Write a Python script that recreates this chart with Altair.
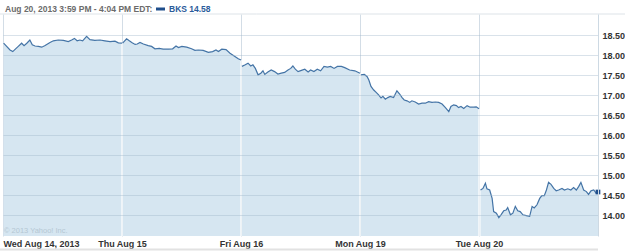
import altair as alt
import pandas as pd

# ---- data (minutes since 9:30 open, price) per trading day ----
day_labels = ["Wed Aug 14, 2013", "Thu Aug 15", "Fri Aug 16", "Mon Aug 19", "Tue Aug 20"]

d1_min = [2, 23, 32, 43, 50, 61, 69, 78, 88, 96, 105, 116, 127, 138, 154, 165, 181, 198, 214, 225,
          234, 243, 252, 261, 274, 285, 301, 318, 334, 351, 367, 378, 390]
d1_px = [18.30, 18.13, 18.09, 18.17, 18.22, 18.30, 18.24, 18.30, 18.38, 18.26, 18.23, 18.22, 18.20,
         18.24, 18.32, 18.36, 18.38, 18.37, 18.34, 18.38, 18.42, 18.36, 18.38, 18.36, 18.47, 18.39,
         18.37, 18.38, 18.36, 18.34, 18.35, 18.31, 18.30]

d2_min = [2, 15, 24, 32, 43, 50, 59, 70, 86, 97, 108, 122, 135, 152, 166, 177, 185, 196, 212, 228,
          239, 250, 266, 283, 297, 308, 316, 327, 341, 354, 370, 381, 390]
d2_px = [18.30, 18.41, 18.36, 18.32, 18.27, 18.28, 18.32, 18.28, 18.24, 18.22, 18.16, 18.17, 18.15,
         18.15, 18.16, 18.23, 18.19, 18.22, 18.20, 18.16, 18.12, 18.13, 18.12, 18.07, 18.09, 18.13,
         18.09, 18.15, 18.14, 18.05, 17.97, 17.91, 17.88]

d3_min = [3, 14, 23, 32, 39, 47, 56, 65, 72, 78, 88, 99, 110, 121, 132, 143, 154, 163, 170, 178,
          187, 198, 209, 220, 228, 239, 250, 261, 272, 283, 294, 305, 316, 329, 340, 356, 373, 390]
d3_px = [17.72, 17.76, 17.80, 17.73, 17.76, 17.67, 17.51, 17.55, 17.61, 17.52, 17.58, 17.63, 17.59,
         17.53, 17.55, 17.57, 17.63, 17.67, 17.73, 17.65, 17.59, 17.62, 17.65, 17.58, 17.63, 17.59,
         17.65, 17.61, 17.72, 17.70, 17.72, 17.67, 17.72, 17.72, 17.69, 17.63, 17.61, 17.55]

d4_min = [3, 14, 23, 29, 36, 45, 53, 61, 69, 75, 83, 91, 99, 110, 121, 130, 138, 145, 154, 163, 170,
          181, 192, 203, 214, 225, 236, 247, 258, 269, 280, 291, 298, 307, 316, 323, 331, 340, 351,
          361, 373, 381, 390]
d4_px = [17.51, 17.52, 17.47, 17.38, 17.22, 17.13, 17.07, 17.01, 16.93, 16.97, 16.90, 16.94, 16.97,
         16.94, 17.11, 17.03, 16.94, 16.88, 16.86, 16.82, 16.86, 16.83, 16.78, 16.80, 16.80, 16.84,
         16.82, 16.83, 16.82, 16.78, 16.69, 16.59, 16.72, 16.76, 16.74, 16.69, 16.72, 16.67, 16.74,
         16.70, 16.70, 16.71, 16.66]

d5_min = [5, 13, 21, 26, 35, 43, 48, 57, 65, 72, 81, 89, 94, 103, 111, 119, 127, 135, 144, 155, 166,
          174, 181, 190, 199, 206, 214, 221, 228, 236, 245, 253, 261, 272, 280, 291, 301, 310, 319,
          327, 334, 343, 352, 359, 367, 376, 384, 390]
d5_px = [14.63, 14.67, 14.80, 14.66, 14.63, 14.42, 14.09, 14.05, 13.94, 14.01, 14.11, 14.13, 14.19,
         14.01, 14.05, 14.22, 14.11, 14.09, 14.01, 13.99, 13.97, 14.22, 14.18, 14.26, 14.42, 14.49,
         14.49, 14.63, 14.82, 14.77, 14.67, 14.61, 14.63, 14.67, 14.63, 14.66, 14.63, 14.69, 14.63,
         14.72, 14.82, 14.63, 14.59, 14.52, 14.61, 14.63, 14.55, 14.58]

y_ticks = [14.0, 14.5, 15.0, 15.5, 16.0, 16.5, 17.0, 17.5, 18.0, 18.5]
Y_MIN, Y_MAX = 13.48, 19.03
DAY_LEN = 390
title_text = "Aug 20, 2013 3:59 PM - 4:04 PM EDT:"
legend_text = "BKS 14.58"
copyright_text = "\u00a9 2013 Yahoo! Inc."

rows = []
for i, (mins, pxs) in enumerate(zip([d1_min, d2_min, d3_min, d4_min, d5_min],
                                     [d1_px, d2_px, d3_px, d4_px, d5_px])):
    for m, p in zip(mins, pxs):
        rows.append({"t": i * DAY_LEN + m, "price": p, "day": i})
df = pd.DataFrame(rows)

# boundaries between days: white separators over the area
days = [d1_px, d2_px, d3_px, d4_px, d5_px]
bnd = pd.DataFrame({"t": [DAY_LEN * (i + 1) for i in range(4)],
                    "price": [max(days[i][-1], days[i + 1][0]) for i in range(4)],
                    "bottom": [Y_MIN] * 4})
last = df.tail(1)

FONT = "Liberation Sans"
xs = alt.Scale(domain=[0, DAY_LEN * 5], nice=False, zero=False)
ys = alt.Scale(domain=[Y_MIN, Y_MAX], nice=False, zero=False)

label_arr = "[" + ",".join("'" + s + "'" for s in day_labels) + "]"
x_axis = alt.Axis(values=[i * DAY_LEN for i in range(5)],
                  labelExpr=label_arr + "[round(datum.value/" + str(DAY_LEN) + ")]",
                  labelFlush=True, labelOverlap=False, grid=True, gridColor="#d3dde6", gridWidth=1,
                  domain=False, ticks=False, labelFont=FONT, labelFontSize=9,
                  labelFontWeight="bold", labelColor="#333333", labelPadding=3,
                  title=None, zindex=0)
y_axis = alt.Axis(orient="right", values=y_ticks, format=".2f", grid=True, labelOverlap=False,
                  tickCount=10,
                  gridColor="#9fb6ca", gridOpacity=0.4, domain=True, domainColor="#cdd9e3",
                  ticks=False, labelFont=FONT, labelFontSize=9, labelFontWeight="bold",
                  labelColor="#333333", labelPadding=4, title=None, zindex=1)

X = alt.X("t:Q", scale=xs, axis=x_axis)
Y = alt.Y("price:Q", scale=ys, axis=y_axis)

base = alt.Chart(df)
area = base.mark_area(color="#d6e6f1", opacity=1).encode(
    x=X, y=Y, y2=alt.datum(Y_MIN), detail="day:N")
seps = alt.Chart(bnd).mark_rule(color="#ffffff", strokeWidth=1.2).encode(
    x=X, y=Y, y2="bottom:Q")
line = base.mark_line(color="#4474a6", strokeWidth=1.2).encode(
    x=X, y=Y, detail="day:N")
pt = alt.Chart(last).mark_square(size=22, color="#1f4e8c", opacity=1).encode(x=X, y=Y)

one = pd.DataFrame({"k": [0]})
top_rule = alt.Chart(one).mark_rule(color="#dde3e8", strokeWidth=1).encode(
    x=alt.value(-3), x2=alt.value(622), y=alt.value(0))
bot_rule = alt.Chart(one).mark_rule(color="#e2e2e2", strokeWidth=2).encode(
    x=alt.value(-3), x2=alt.value(595), y=alt.value(235.5))
title = alt.Chart(one).mark_text(align="left", baseline="middle", font=FONT, fontSize=8.5,
                                 fontWeight="bold", color="#6b6b6b").encode(
    x=alt.value(2), y=alt.value(-5), text=alt.value(title_text))
leg_rect = alt.Chart(one).mark_rect(color="#1f4e8c").encode(
    x=alt.value(153), x2=alt.value(162), y=alt.value(-6.5), y2=alt.value(-3.5))
leg_text = alt.Chart(one).mark_text(align="left", baseline="middle", font=FONT, fontSize=8.5,
                                    fontWeight="bold", color="#2a5b9a").encode(
    x=alt.value(166), y=alt.value(-5), text=alt.value(legend_text))
copy = alt.Chart(one).mark_text(align="left", baseline="middle", font=FONT, fontSize=7.5,
                                color="#b5c6d3").encode(
    x=alt.value(1), y=alt.value(217), text=alt.value(copyright_text))

chart = alt.layer(area, seps, line, pt, copy, top_rule, bot_rule, title, leg_rect, leg_text).properties(
    width=595, height=222,
    autosize=alt.AutoSizeParams(type="none"),
    padding={"left": 3, "top": 14, "right": 27, "bottom": 16},
    background="#ffffff",
).configure_view(stroke=None)

chart.save("out.html", embed_options={"renderer": "svg", "actions": False})
